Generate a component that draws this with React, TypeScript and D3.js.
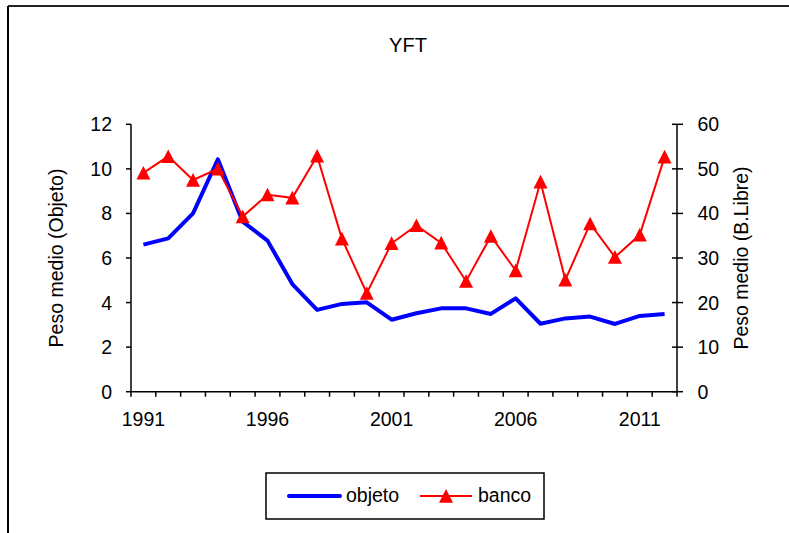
import React from "react";
import * as d3 from "d3";

const years: number[] = [1991,1992,1993,1994,1995,1996,1997,1998,1999,2000,2001,2002,2003,2004,2005,2006,2007,2008,2009,2010,2011,2012];
const objeto: number[] = [6.6,6.88,8.0,10.43,7.63,6.78,4.83,3.67,3.94,4.01,3.23,3.52,3.74,3.74,3.49,4.19,3.05,3.29,3.37,3.04,3.4,3.49];
const banco: number[] = [49.1,52.8,47.5,50.0,39.3,44.2,43.5,52.9,34.3,22.1,33.3,37.3,33.4,24.8,34.9,27.2,47.1,25.1,37.7,30.2,35.2,52.7];
const leftTicks: number[] = [0,2,4,6,8,10,12];
const rightTicks: number[] = [0,10,20,30,40,50,60];
const xLabelYears: number[] = [1991,1996,2001,2006,2011];

const W = 789, H = 533;
const FONT = "'Liberation Sans', Arial, sans-serif";
const FS = 19.5;

export default function App() {
  const x0 = 131, x1 = 677, yTop = 124.3, yBot = 391.7;
  const xBand = d3.scaleBand<number>().domain(years).range([x0, x1]).paddingInner(0).paddingOuter(0);
  const xc = (yr: number) => (xBand(yr) as number) + xBand.bandwidth() / 2;
  const yL = d3.scaleLinear().domain([0, 12]).range([yBot, yTop]);
  const yR = d3.scaleLinear().domain([0, 60]).range([yBot, yTop]);

  const lineL = d3.line<number>().x((_, i) => xc(years[i])).y((d) => yL(d));
  const lineR = d3.line<number>().x((_, i) => xc(years[i])).y((d) => yR(d));

  const tri = (cx: number, cy: number, s = 7) =>
    `M${cx},${cy - s} L${cx + s},${cy + s * 0.95} L${cx - s},${cy + s * 0.95} Z`;

  const xTickPos = years.map((y) => xBand(y) as number).concat([x1]);

  return (
    <div style={{ position: "absolute", left: 0, top: 0 }}>
      <svg width={W} height={H} style={{ display: "block", background: "#fff" }} fontFamily={FONT}>
        <rect x={0} y={0} width={W} height={H} fill="#fff" />
        {/* frame */}
        <line x1={8} y1={6} x2={W} y2={6} stroke="#222" strokeWidth={2} />
        <line x1={8} y1={6} x2={8} y2={H} stroke="#000" strokeWidth={2} />

        <text x={408} y={52} fontSize={20} textAnchor="middle" fill="#000">YFT</text>

        {/* left axis */}
        <line x1={x0} y1={yTop} x2={x0} y2={yBot} stroke="#000" strokeWidth={1.5} />
        {leftTicks.map((t) => (
          <g key={"l" + t}>
            <line x1={x0 - 5} x2={x0} y1={yL(t)} y2={yL(t)} stroke="#000" strokeWidth={1.5} />
            <text x={112} y={yL(t) + 7} fontSize={FS} textAnchor="end" fill="#000">{t}</text>
          </g>
        ))}
        <text transform={`translate(63,${(yTop + yBot) / 2}) rotate(-90)`} fontSize={FS} textAnchor="middle" fill="#000">Peso medio (Objeto)</text>

        {/* right axis */}
        <line x1={x1} y1={yTop} x2={x1} y2={yBot} stroke="#000" strokeWidth={1.5} />
        {rightTicks.map((t) => (
          <g key={"r" + t}>
            <line x1={x1 - 5} x2={x1 + 6} y1={yR(t)} y2={yR(t)} stroke="#000" strokeWidth={1.5} />
            <text x={697.5} y={yR(t) + 7} fontSize={FS} textAnchor="start" fill="#000">{t}</text>
          </g>
        ))}
        <text transform={`translate(748,${(yTop + yBot) / 2}) rotate(-90)`} fontSize={FS} textAnchor="middle" fill="#000">Peso medio (B.Libre)</text>

        {/* x axis */}
        <line x1={x0} y1={yBot} x2={x1} y2={yBot} stroke="#000" strokeWidth={1.5} />
        {xTickPos.map((px, i) => (
          <line key={"x" + i} x1={px} x2={px} y1={yBot} y2={yBot + 5} stroke="#000" strokeWidth={1.5} />
        ))}
        {xLabelYears.map((yr) => (
          <text key={"xl" + yr} x={xc(yr)} y={426} fontSize={FS} textAnchor="middle" fill="#000">{yr}</text>
        ))}

        {/* series */}
        <path d={lineL(objeto) || ""} fill="none" stroke="#0000ff" strokeWidth={4} strokeLinejoin="round" />
        <path d={lineR(banco) || ""} fill="none" stroke="#ff0000" strokeWidth={2} />
        {banco.map((v, i) => (
          <path key={"t" + i} d={tri(xc(years[i]), yR(v))} fill="#ff0000" />
        ))}

        {/* legend */}
        <rect x={266} y={473} width={278} height={46} fill="#fff" stroke="#000" strokeWidth={1.5} />
        <line x1={289} x2={340} y1={496} y2={496} stroke="#0000ff" strokeWidth={4} strokeLinecap="round" />
        <text x={346} y={502} fontSize={FS} fill="#000">objeto</text>
        <line x1={420} x2={472} y1={496} y2={496} stroke="#ff0000" strokeWidth={2} />
        <path d={tri(446, 496, 7)} fill="#ff0000" />
        <text x={478} y={502} fontSize={FS} fill="#000">banco</text>
      </svg>
    </div>
  );
}
